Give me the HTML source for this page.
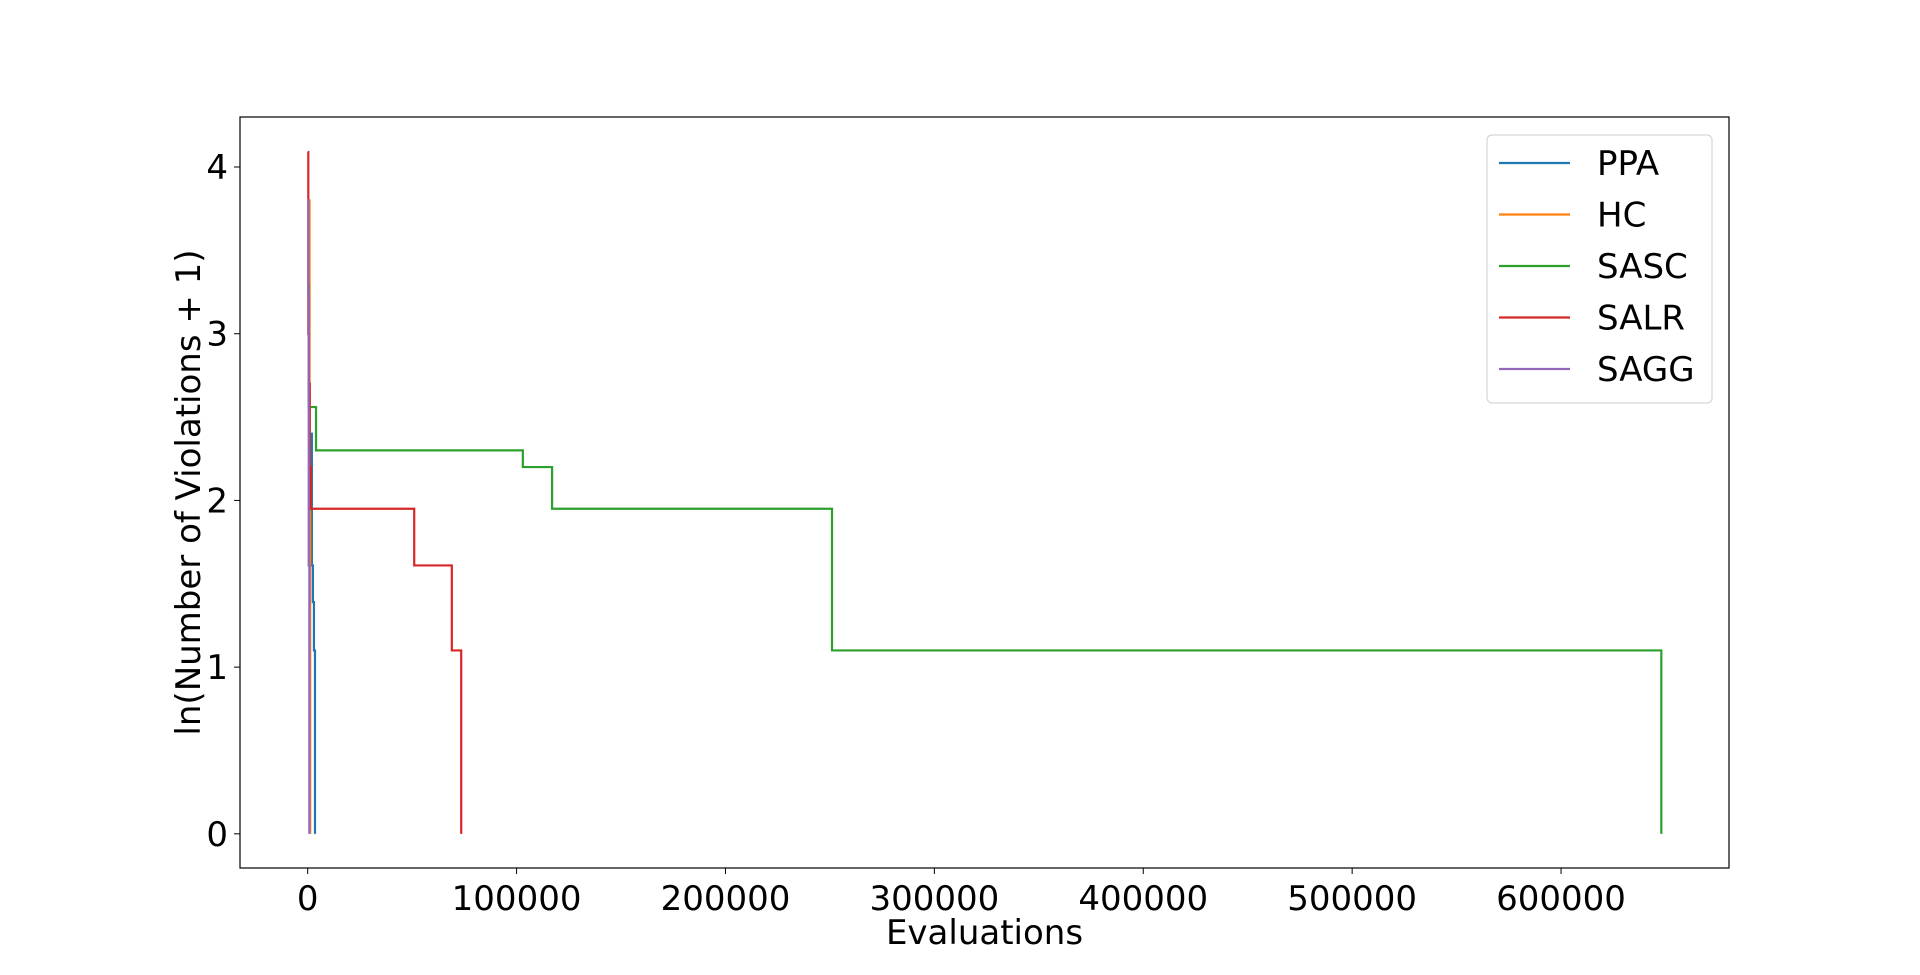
<!DOCTYPE html>
<html><head><meta charset="utf-8"><style>
html,body{margin:0;padding:0;background:#fff;}
svg{display:block;font-family:"DejaVu Sans","Liberation Sans",sans-serif;}
</style></head><body>
<svg id="chart" width="1920" height="975"></svg>
<script>
const xTicks=[0,100000,200000,300000,400000,500000,600000];
const yTicks=[0,1,2,3,4];
const seriesNames=["PPA","HC","SASC","SALR","SAGG"];
const seriesColors=["#1f77b4","#ff7f0e","#2ca02c","#d62728","#9467bd"];
const ppaX=[0,800,1500,2000,2500,3000,3500,3500];
const ppaY=[3.0,2.4,2.4,1.61,1.39,1.10,0.69,0];
const hcX=[0,900,1200,1200];
const hcY=[3.8,2.2,1.61,0];
const sascX=[0,500,4000,103000,117000,251000,648000,648000];
const sascY=[3.3,2.56,2.30,2.20,1.95,1.10,1.10,0];
const salrX=[0,300,600,1000,1500,51000,69000,73500,73500];
const salrY=[4.09,3.0,2.7,2.2,1.95,1.61,1.10,1.10,0];
const saggX=[0,300,500,800,800];
const saggY=[3.8,3.25,1.61,1.10,0];
const allX=[ppaX,hcX,sascX,salrX,saggX];
const allY=[ppaY,hcY,sascY,salrY,saggY];

const L=240,R=1729,T=117,B=868;
const xMin=-32400,xMax=680400,yMin=-0.205,yMax=4.3;
const sx=v=>L+(v-xMin)/(xMax-xMin)*(R-L);
const sy=v=>B-(v-yMin)/(yMax-yMin)*(B-T);
const NS="http://www.w3.org/2000/svg";
const svg=document.getElementById('chart');
function mk(tag,attrs,parent){const e=document.createElementNS(NS,tag);for(const k in attrs)e.setAttribute(k,attrs[k]);(parent||svg).appendChild(e);return e;}

const defs=mk('clipPath',{id:'clip'});mk('rect',{x:L,y:T,width:R-L,height:B-T},defs);
const g=mk('g',{'clip-path':'url(#clip)'});


for(let s=0;s<allX.length;s++){
  const xs=allX[s],ys=allY[s];
  let d='M'+sx(xs[0])+','+sy(ys[0]);
  for(let i=1;i<xs.length;i++){d+=' L'+sx(xs[i])+','+sy(ys[i-1])+' L'+sx(xs[i])+','+sy(ys[i]);}
  const p=mk('path',{d:d,fill:'none',stroke:seriesColors[s],'stroke-width':2.2},g);
  
  
}
const frame=mk('rect',{x:L,y:T,width:R-L,height:B-T,fill:'none',stroke:'#000','stroke-width':1.2});


xTicks.forEach(v=>{
  mk('line',{x1:sx(v),x2:sx(v),y1:B,y2:B+6,stroke:'#000','stroke-width':1});
  const t=mk('text',{x:sx(v),y:B+42,'text-anchor':'middle','font-size':34});
  t.textContent=String(v);
  
  
});
yTicks.forEach(v=>{
  mk('line',{x1:L-6,x2:L,y1:sy(v),y2:sy(v),stroke:'#000','stroke-width':1});
  const t=mk('text',{x:L-12,y:sy(v)+12,'text-anchor':'end','font-size':34});
  t.textContent=String(v);
  
  
});
const xt=mk('text',{x:(L+R)/2,y:944,'text-anchor':'middle','font-size':34});
xt.textContent='Evaluations';


const yt=mk('text',{x:0,y:0,'text-anchor':'middle','font-size':34,transform:'translate(200,'+((T+B)/2)+') rotate(-90)'});
yt.textContent='ln(Number of Violations + 1)';



const lg=mk('g',{});


mk('rect',{x:1487,y:135,width:225,height:268,rx:5,fill:'#fff',stroke:'#d6d6d6','stroke-width':1.2},lg);
seriesNames.forEach((n,i)=>{
  const yy=163+i*51.5;
  mk('line',{x1:1499,x2:1570,y1:yy,y2:yy,stroke:seriesColors[i],'stroke-width':2.2},lg);
  const t=mk('text',{x:1597,y:yy+12,'font-size':34},lg);
  t.textContent=n;
  
  
});
</script>
</body></html>
